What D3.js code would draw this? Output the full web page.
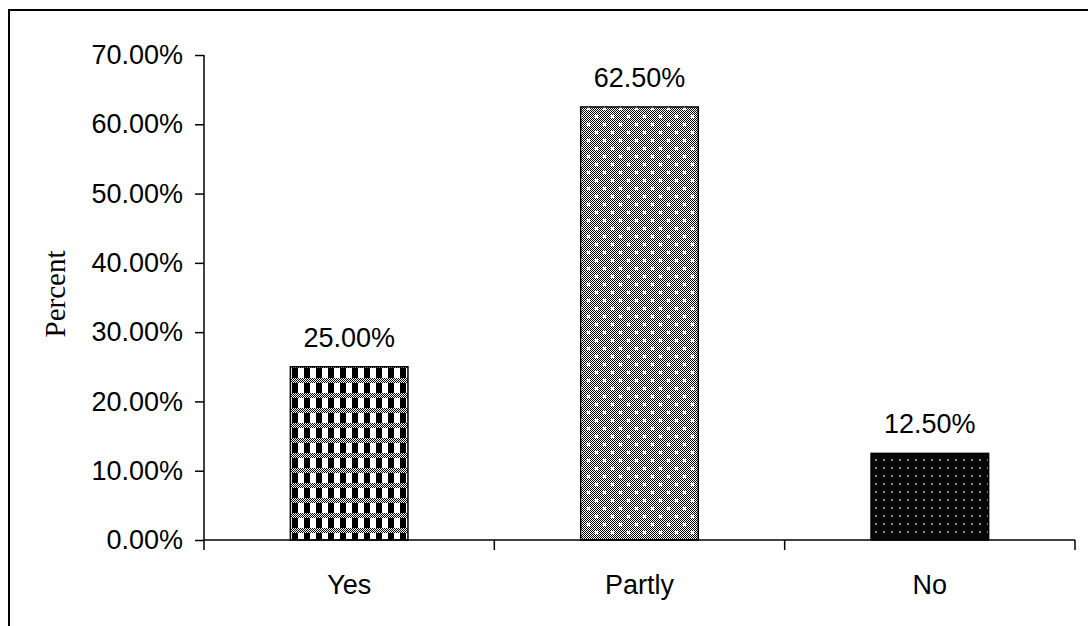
<!DOCTYPE html>
<html>
<head>
<meta charset="utf-8">
<script src="https://cdn.jsdelivr.net/npm/d3@7"></script>
<style>
  html, body { margin: 0; padding: 0; background: #fff; }
  svg { display: block; }
</style>
</head>
<body>
<svg id="chart" width="1088" height="626"></svg>
<script>
// Survey answer shares
const categories = ["Yes", "Partly", "No"];
const values = [25.0, 62.5, 12.5];
const yTicks = [0, 10, 20, 30, 40, 50, 60, 70];
const patternIds = ["pat-yes", "pat-partly", "pat-no"];

const svg = d3.select("#chart");
const W = 1088, H = 626;
const m = { left: 204, right: 1075, top: 55, bottom: 540 };
const sans = "Liberation Sans, Arial, sans-serif";

const defs = svg.append("defs");

// 1px dither used for the grey areas
const dith = defs.append("pattern").attr("id", "dither")
  .attr("patternUnits", "userSpaceOnUse").attr("width", 2).attr("height", 2);
dith.append("rect").attr("width", 2).attr("height", 2).attr("fill", "#fff");
dith.append("rect").attr("width", 1).attr("height", 1).attr("fill", "#000");
dith.append("rect").attr("x", 1).attr("y", 1).attr("width", 1).attr("height", 1).attr("fill", "#000");

// "Yes": black blocks with a dithered grey band between rows
const pYes = defs.append("pattern").attr("id", "pat-yes")
  .attr("patternUnits", "userSpaceOnUse").attr("width", 12).attr("height", 15)
  .attr("x", 292).attr("y", 368);
pYes.append("rect").attr("width", 12).attr("height", 15).attr("fill", "#fff");
pYes.append("rect").attr("x", 0).attr("y", 0).attr("width", 6).attr("height", 10).attr("fill", "#000");
pYes.append("rect").attr("x", 0).attr("y", 10).attr("width", 12).attr("height", 5).attr("fill", "url(#dither)");

// "Partly": dithered grey with white dots
const pPartly = defs.append("pattern").attr("id", "pat-partly")
  .attr("patternUnits", "userSpaceOnUse").attr("width", 16).attr("height", 16);
pPartly.append("rect").attr("width", 16).attr("height", 16).attr("fill", "url(#dither)");
pPartly.append("rect").attr("x", 3).attr("y", 3).attr("width", 3).attr("height", 3).attr("fill", "#fff");
pPartly.append("rect").attr("x", 11).attr("y", 11).attr("width", 3).attr("height", 3).attr("fill", "#fff");

// "No": near-black with small grey dots
const pNo = defs.append("pattern").attr("id", "pat-no")
  .attr("patternUnits", "userSpaceOnUse").attr("width", 8).attr("height", 8);
pNo.append("rect").attr("width", 8).attr("height", 8).attr("fill", "#080808");
pNo.append("rect").attr("x", 3).attr("y", 3).attr("width", 2).attr("height", 2).attr("fill", "#888");

// Outer chart frame
svg.append("path")
  .attr("d", `M9,${H + 5} L9,10 L${W + 5},10`)
  .attr("fill", "none").attr("stroke", "#000").attr("stroke-width", 2);

const x = d3.scaleBand().domain(categories).range([m.left, m.right]).paddingInner(0.595).paddingOuter(0.2975);
const y = d3.scaleLinear().domain([0, 70]).range([m.bottom, m.top]);

// Bars
svg.selectAll("rect.bar").data(values).enter().append("rect")
  .attr("class", "bar")
  .attr("x", (d, i) => x(categories[i]))
  .attr("y", d => y(d))
  .attr("width", x.bandwidth())
  .attr("height", d => y(0) - y(d))
  .attr("fill", (d, i) => `url(#${patternIds[i]})`)
  .attr("stroke", "#000").attr("stroke-width", 1.5);

// Value labels
svg.selectAll("text.val").data(values).enter().append("text")
  .attr("class", "val")
  .attr("x", (d, i) => x(categories[i]) + x.bandwidth() / 2)
  .attr("y", d => y(d) - 20)
  .attr("text-anchor", "middle")
  .attr("font-family", sans)
  .attr("font-size", 27)
  .text(d => d.toFixed(2) + "%");

// Y axis
const yAxis = svg.append("g").attr("transform", `translate(${m.left},0)`)
  .call(d3.axisLeft(y).tickValues(yTicks).tickSize(9).tickPadding(12).tickFormat(d => d.toFixed(2) + "%"));
yAxis.selectAll("path, line").attr("stroke", "#000").attr("stroke-width", 1.5);
yAxis.select("path").attr("d", `M0,${m.bottom}V${m.top}`);
yAxis.selectAll("text").attr("font-family", sans)
  .attr("font-size", 27).attr("fill", "#000");

// X axis with ticks at category boundaries
const bounds = [0, 1, 2, 3].map(i => m.left + i * (m.right - m.left) / 3);
const xg = svg.append("g");
xg.append("line").attr("x1", m.left).attr("x2", m.right).attr("y1", m.bottom).attr("y2", m.bottom)
  .attr("stroke", "#000").attr("stroke-width", 1.5);
xg.selectAll("line.tk").data(bounds).enter().append("line").attr("class", "tk")
  .attr("x1", d => d).attr("x2", d => d).attr("y1", m.bottom).attr("y2", m.bottom + 10)
  .attr("stroke", "#000").attr("stroke-width", 1.5);
xg.selectAll("text").data(categories).enter().append("text")
  .attr("x", d => x(d) + x.bandwidth() / 2)
  .attr("y", 594)
  .attr("text-anchor", "middle")
  .attr("font-family", sans)
  .attr("font-size", 27)
  .text(d => d);

// Y axis title
svg.append("text")
  .attr("transform", "translate(65,294) rotate(-90)")
  .attr("text-anchor", "middle")
  .attr("font-family", "Liberation Serif, Times New Roman, serif")
  .attr("font-size", 29)
  .text("Percent");
</script>
</body>
</html>
